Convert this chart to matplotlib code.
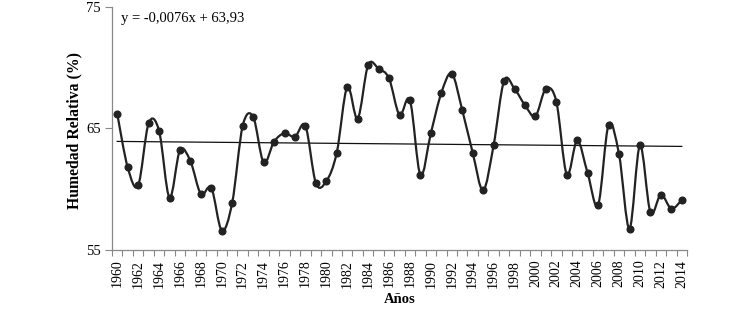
import numpy as np
import matplotlib.pyplot as plt
from matplotlib.path import Path
from matplotlib.patches import PathPatch

plt.rcParams['font.family'] = ['Liberation Serif', 'DejaVu Serif']

years = np.arange(1960, 2015)
humedad = [66.2, 61.8, 60.3, 65.4, 64.8, 59.3, 63.2, 62.3, 59.6, 60.1,
           56.6, 58.9, 65.2, 65.95, 62.2, 63.9, 64.6, 64.3, 65.2, 60.5,
           60.65, 63.0, 68.4, 65.8, 70.2, 69.9, 69.1, 66.1, 67.3, 61.15,
           64.6, 67.9, 69.5, 66.5, 63.0, 59.9, 63.6, 68.9, 68.25, 66.9,
           66.0, 68.25, 67.2, 61.2, 64.0, 61.3, 58.7, 65.3, 62.85, 56.75,
           63.6, 58.1, 59.55, 58.4, 59.1]
slope = -0.0076
intercept = 63.93
eq_label = 'y = -0,0076x + 63,93'


def smooth_path(x, y):
    ## excel-like smoothed line: bezier with catmull-rom control points
    x = np.asarray(x, float)
    y = np.asarray(y, float)
    n = len(x)
    verts = [(x[0], y[0])]
    codes = [Path.MOVETO]
    for i in range(n - 1):
        i0 = max(i - 1, 0)
        i3 = min(i + 2, n - 1)
        c1 = (x[i] + (x[i + 1] - x[i0]) / 6, y[i] + (y[i + 1] - y[i0]) / 6)
        c2 = (x[i + 1] - (x[i3] - x[i]) / 6, y[i + 1] - (y[i3] - y[i]) / 6)
        verts += [c1, c2, (x[i + 1], y[i + 1])]
        codes += [Path.CURVE4] * 3
    return Path(verts, codes)


fig = plt.figure(figsize=(7.38, 3.09), dpi=100)
ax = fig.add_axes([112 / 738, 1 - 250 / 309, (687 - 112) / 738, (250 - 6.6) / 309])

ax.add_patch(PathPatch(smooth_path(years, humedad), fill=False,
                       edgecolor='#222222', lw=1.6, zorder=3))
ax.plot(years, humedad, 'o', color='#222222', ms=4.8, zorder=4)

idx = np.arange(1, len(years) + 1)
ax.plot(years, slope * idx + intercept, color='#111111', lw=0.9, zorder=2)

ax.text(1960.4, 74.05, eq_label, fontsize=10.5, va='center', ha='left')

ax.set_xlim(1959.5, 2014.5)
ax.set_ylim(55, 75)
ax.set_yticks([55, 65, 75])
ax.set_xticks(years[::2])
ax.set_xticks(np.arange(1959.5, 2015, 1), minor=True)
ax.set_xticklabels([str(y) for y in years[::2]], rotation=90, fontsize=10)
ax.tick_params(axis='x', which='major', length=0, pad=7)
ax.tick_params(axis='x', which='minor', length=4, color='#888888', width=0.8)
ax.tick_params(axis='y', length=5, color='#888888', width=0.8, labelsize=10.5, pad=3)

for s in ['top', 'right']:
    ax.spines[s].set_visible(False)
for s in ['left', 'bottom']:
    ax.spines[s].set_color('#888888')
    ax.spines[s].set_linewidth(0.9)

ax.set_ylabel('Humedad Relativa (%)', fontsize=11.3, fontweight='bold')
ax.yaxis.set_label_coords(-30 / 575, 0.49)
ax.set_xlabel('Años', fontsize=10.5, fontweight='bold', labelpad=4)

fig.savefig('out.png', dpi=100)
